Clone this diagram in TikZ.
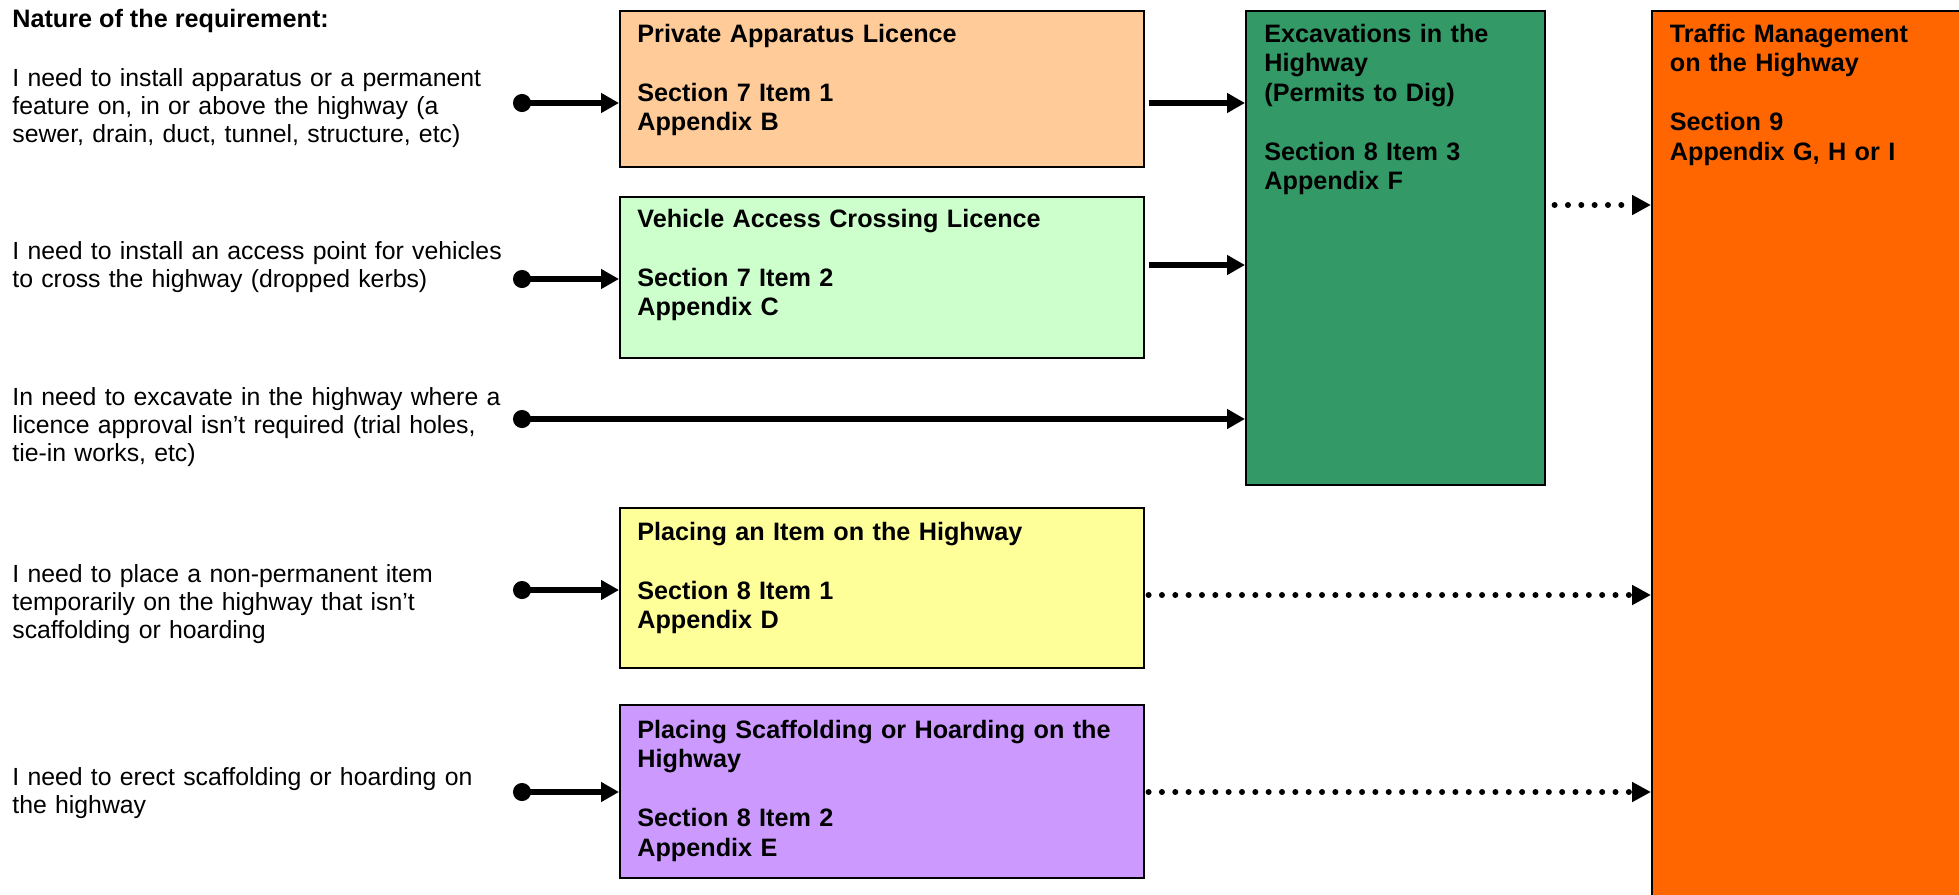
\documentclass[tikz,border=0pt]{standalone}
\usepackage{fontspec}
\setmainfont{Liberation Sans}
\usepackage{xcolor}
\usepackage{tikz}
\usetikzlibrary{arrows.meta,calc}

\definecolor{apricot}{HTML}{FFCC99}
\definecolor{mint}{HTML}{CCFFCC}
\definecolor{digreen}{HTML}{339966}
\definecolor{tmorange}{HTML}{FF6600}
\definecolor{paleyellow}{HTML}{FFFF99}
\definecolor{lilac}{HTML}{CC99FF}

\begin{document}
\begin{tikzpicture}[x=0.5pt, y=-0.5pt,
  every node/.style={font=\fontsize{12.4pt}{14pt}\selectfont},
  reqtext/.style={anchor=base west, align=left, text width=250pt, inner sep=0pt},
  box/.style={draw, line width=0.8pt, anchor=north west, inner sep=0pt},
  boxtext/.style={anchor=base west, align=left, text width=245pt, inner sep=0pt,
    font=\fontsize{12.6pt}{14.75pt}\selectfont\bfseries},
  feed/.style={line width=2.8pt, {Circle[length=9pt]}-{Triangle[length=9pt,width=9.5pt]}},
  link/.style={line width=2.8pt, -{Triangle[length=9pt,width=9.5pt]}},
  dotlink/.style={line width=3pt, line cap=round, dash pattern=on 0pt off 6.67pt,
    -{Triangle[length=9.5pt,width=9.5pt]}}]
\useasboundingbox (0,0) rectangle (1959,894);

\node[anchor=base west, inner sep=0pt, font=\fontsize{12.6pt}{14pt}\selectfont\bfseries] (title) at (12,27) {Nature of the requirement:};
% requirements
\node[reqtext] (q1) at (12,86) {I need to install apparatus or a permanent\\feature on, in or above the highway (a\\sewer, drain, duct, tunnel, structure, etc)};
\node[reqtext] (q2) at (12,259) {I need to install an access point for vehicles\\to cross the highway (dropped kerbs)};
\node[reqtext] (q3) at (12,405) {In need to excavate in the highway where a\\licence approval isn’t required (trial holes,\\tie-in works, etc)};
\node[reqtext] (q4) at (12,582) {I need to place a non-permanent item\\temporarily on the highway that isn’t\\scaffolding or hoarding};
\node[reqtext] (q5) at (12,785) {I need to erect scaffolding or hoarding on\\the highway};

% permissions
\node[box, fill=apricot, minimum width=262pt, minimum height=78pt] (pal) at (619,10) {};
\node[box, fill=mint, minimum width=262pt, minimum height=80.5pt] (vac) at (619,196) {};
\node[box, fill=paleyellow, minimum width=262pt, minimum height=80pt] (pih) at (619,507) {};
\node[box, fill=lilac, minimum width=262pt, minimum height=86.5pt] (psh) at (619,704) {};
\node[box, fill=digreen, minimum width=149.5pt, minimum height=237pt] (exc) at (1245,10) {};
\node[box, fill=tmorange, minimum width=200pt, minimum height=470pt] (tm) at (1651,10) {};

\node[boxtext] (palt) at ([xshift=9pt,yshift=-16pt]pal.north west) {Private Apparatus Licence\\[14.75pt]Section 7 Item 1\\Appendix B};
\node[boxtext] (vact) at ([xshift=9pt,yshift=-15.5pt]vac.north west) {Vehicle Access Crossing Licence\\[14.75pt]Section 7 Item 2\\Appendix C};
\node[boxtext] (piht) at ([xshift=9pt,yshift=-16.5pt]pih.north west) {Placing an Item on the Highway\\[14.75pt]Section 8 Item 1\\Appendix D};
\node[boxtext] (psht) at ([xshift=9pt,yshift=-17pt]psh.north west) {Placing Scaffolding or Hoarding on the\\Highway\\[14.75pt]Section 8 Item 2\\Appendix E};
\node[boxtext] (exct) at ([xshift=9.5pt,yshift=-16pt]exc.north west) {Excavations in the\\Highway\\(Permits to Dig)\\[14.75pt]Section 8 Item 3\\Appendix F};
\node[boxtext] (tmt) at ([xshift=9.25pt,yshift=-16pt]tm.north west) {Traffic Management\\on the Highway\\[14.75pt]Section 9\\Appendix G, H or I};

% arrows
\foreach \name/\y in {s1/103,s2/279,s3/419,s4/590,s5/792} {
  \coordinate (\name) at (513,\y);
}
\draw[feed] (s1) -- (s1 -| pal.west);
\draw[feed] (s2) -- (s2 -| vac.west);
\draw[feed] (s3) -- (s3 -| exc.west);
\draw[feed] (s4) -- (s4 -| pih.west);
\draw[feed] (s5) -- (s5 -| psh.west);

\draw[link] ([xshift=2pt]pal.east |- s1) -- (exc.west |- s1);
\draw[link] ([xshift=2pt]vac.east |- 0,265) -- (exc.west |- 0,265);

\draw[dotlink] ([xshift=4.5pt]exc.east |- 0,205) -- (tm.west |- 0,205);
\draw[dotlink] ([xshift=2pt]pih.east |- 0,595) -- (tm.west |- 0,595);
\draw[dotlink] ([xshift=2pt]psh.east |- s5) -- (tm.west |- s5);
\end{tikzpicture}
\end{document}
